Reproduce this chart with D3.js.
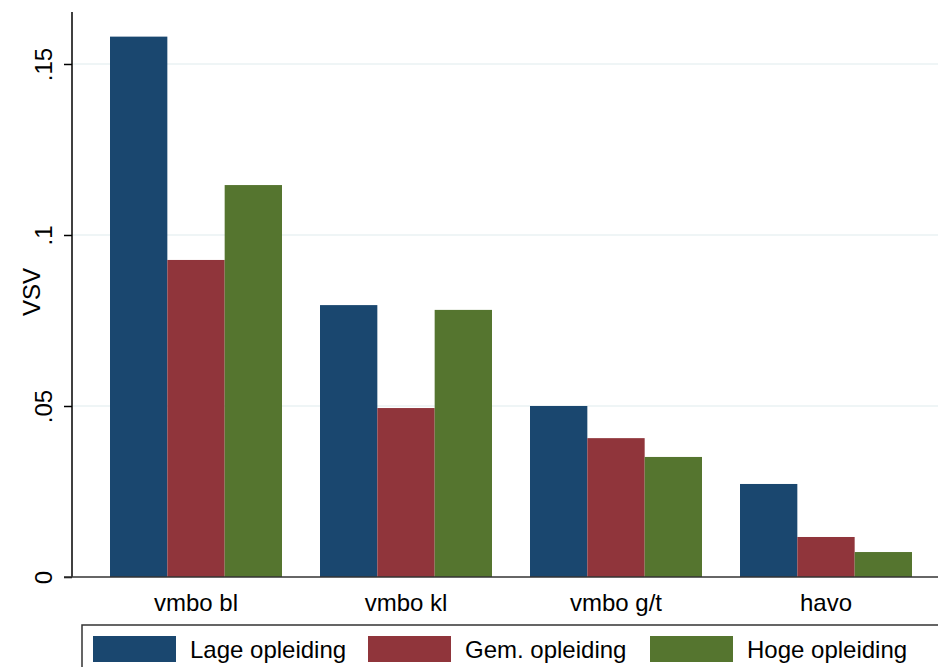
<!DOCTYPE html>
<html>
<head>
<meta charset="utf-8">
<script src="https://cdn.jsdelivr.net/npm/d3@7"></script>
<style>
  body { margin: 0; background: #fff; }
  svg { display: block; font-family: "Liberation Sans", Arial, sans-serif; }
</style>
</head>
<body>
<div id="chart"></div>
<script>
// Chart data
const categories = ['vmbo bl', 'vmbo kl', 'vmbo g/t', 'havo'];
const seriesNames = ['Lage opleiding', 'Gem. opleiding', 'Hoge opleiding'];
const lageValues = [0.158, 0.0795, 0.050, 0.0272];
const gemValues = [0.0927, 0.0494, 0.0406, 0.0117];
const hogeValues = [0.1146, 0.0781, 0.0351, 0.0073];
const yTicks = [0, 0.05, 0.1, 0.15];
const yTickLabels = ['0', '.05', '.1', '.15'];
const colors = ['#1a476f', '#90353b', '#55752f'];

const width = 938, height = 667;
const plotTop = 12;
const plotBottom = 577;
const fontSize = '24px';

const svg = d3.select('#chart').append('svg')
    .attr('width', width)
    .attr('height', height);

const rows = categories.map((c, i) => ({
    cat: c,
    values: [lageValues[i], gemValues[i], hogeValues[i]]
}));

const x0 = d3.scaleBand()
    .domain(categories)
    .range([72, 950])
    .paddingInner(0.181)
    .paddingOuter(0.181);

const x1 = d3.scaleBand()
    .domain(d3.range(seriesNames.length))
    .range([0, x0.bandwidth()]);

const y = d3.scaleLinear()
    .domain([0, 0.1652])
    .range([plotBottom, plotTop]);

// Grid
svg.append('g')
    .attr('class', 'grid')
    .selectAll('line')
    .data(yTicks.slice(1))
    .join('line')
    .attr('x1', 72)
    .attr('x2', width)
    .attr('y1', d => y(d))
    .attr('y2', d => y(d))
    .style('stroke', '#eaf2f3')
    .style('stroke-width', 1.5);

// Bars
svg.append('g')
    .selectAll('g')
    .data(rows)
    .join('g')
    .attr('transform', d => `translate(${x0(d.cat)},0)`)
    .selectAll('rect')
    .data(d => d.values)
    .join('rect')
    .attr('x', (d, i) => x1(i))
    .attr('width', x1.bandwidth())
    .attr('y', d => y(d))
    .attr('height', d => plotBottom - y(d))
    .style('fill', (d, i) => colors[i]);

// Y axis
const yAxis = svg.append('g')
    .attr('class', 'axis')
    .attr('transform', 'translate(72,0)')
    .call(d3.axisLeft(y)
        .tickValues(yTicks)
        .tickFormat((d, i) => yTickLabels[i])
        .tickSize(8)
        .tickPadding(0)
    );
yAxis.select('.domain')
    .attr('d', `M0,${plotTop}V${plotBottom}`)
    .style('stroke', '#000')
    .style('stroke-width', 1.5);
yAxis.selectAll('.tick line').style('stroke', '#000').style('stroke-width', 1.5);
yAxis.selectAll('.tick text')
    .attr('x', null)
    .attr('dy', null)
    .attr('transform', 'translate(-20,0) rotate(-90)')
    .style('text-anchor', 'middle')
    .style('font-size', fontSize)
    .style('fill', '#000');

// X axis line
svg.append('line')
    .attr('x1', 64)
    .attr('x2', width)
    .attr('y1', plotBottom)
    .attr('y2', plotBottom)
    .style('stroke', '#333')
    .style('stroke-width', 1.5);

// X labels
svg.append('g')
    .selectAll('text')
    .data(categories)
    .join('text')
    .attr('x', d => x0(d) + x0.bandwidth() / 2)
    .attr('y', 611)
    .style('text-anchor', 'middle')
    .style('font-size', fontSize)
    .style('fill', '#000')
    .text(d => d);

// Y axis label
svg.append('text')
    .attr('transform', 'translate(40,292) rotate(-90)')
    .style('text-anchor', 'middle')
    .style('font-size', fontSize)
    .style('fill', '#000')
    .text('VSV');

// Legend
const legend = svg.append('g');
legend.append('rect')
    .attr('x', 82)
    .attr('y', 625)
    .attr('width', 880)
    .attr('height', 60)
    .style('fill', '#fff')
    .style('stroke', '#333')
    .style('stroke-width', 1.5);

const legendX = [93, 368, 650];
const items = legend.selectAll('g')
    .data(seriesNames)
    .join('g')
    .attr('transform', (d, i) => `translate(${legendX[i]},636)`);
items.append('rect')
    .attr('width', 83)
    .attr('height', 26)
    .style('fill', (d, i) => colors[i]);
items.append('text')
    .attr('x', 97)
    .attr('y', 22)
    .style('font-size', fontSize)
    .style('fill', '#000')
    .text(d => d);
</script>
</body>
</html>
